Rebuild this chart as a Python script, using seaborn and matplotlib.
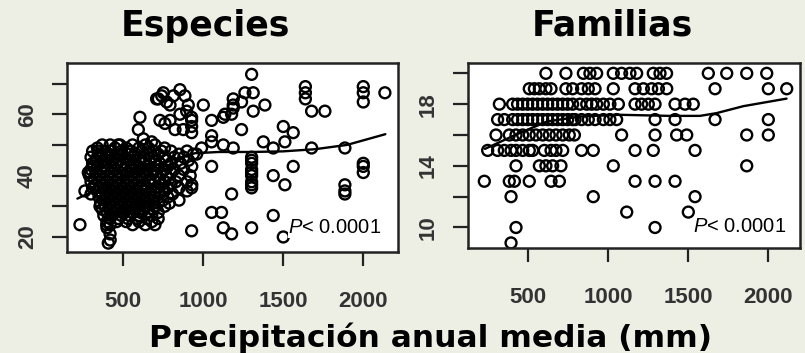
import numpy as np
import pandas as pd
import seaborn as sns
import matplotlib.pyplot as plt

# ---- Especies: dense core read row by row (y = species count, x = precipitation)
esp_core_y = [50, 49, 48, 47, 46, 45, 44, 43, 42, 41, 40, 39, 38, 37, 36, 35, 34,
              33, 32, 31, 30, 29, 28, 27, 26, 25, 24]
esp_core_x = [
    [370, 420, 470, 560, 640, 700],
    [340, 450, 520, 600, 660, 760],
    [310, 390, 430, 490, 550, 620, 690, 740, 800, 900],
    [360, 410, 470, 530, 580, 650, 720, 850, 940],
    [300, 340, 400, 450, 510, 560, 610, 680, 760, 820, 880],
    [330, 380, 430, 480, 540, 600, 640, 700, 770, 910],
    [310, 360, 410, 460, 520, 570, 630, 670, 730, 800, 860],
    [340, 390, 440, 490, 550, 600, 660, 720, 780, 930],
    [300, 360, 400, 450, 510, 560, 610, 650, 700, 760, 820, 880],
    [330, 380, 430, 480, 530, 580, 640, 690, 740, 800],
    [290, 350, 400, 450, 500, 550, 600, 650, 710, 770, 850, 920],
    [320, 370, 420, 470, 520, 570, 620, 670, 730, 790],
    [300, 350, 400, 450, 500, 550, 600, 660, 700, 760, 830, 900],
    [330, 380, 430, 480, 530, 580, 630, 680, 740, 800, 930],
    [310, 360, 410, 460, 510, 560, 610, 650, 720, 780, 850, 929],
    [340, 390, 440, 490, 540, 590, 640, 700, 760, 900],
    [300, 370, 420, 470, 520, 570, 620, 670, 730, 810],
    [350, 400, 450, 500, 550, 600, 650, 700, 780],
    [380, 430, 480, 530, 580, 630, 690, 750, 850],
    [360, 410, 460, 510, 560, 610, 660, 720, 790],
    [390, 440, 490, 540, 590, 640, 700, 760],
    [370, 420, 470, 520, 580, 630, 690],
    [400, 450, 510, 560, 610, 660, 720],
    [380, 430, 490, 540, 600, 680],
    [420, 470, 530, 590, 650, 720],
    [400, 460, 520, 600, 680],
    [420, 560, 640, 700],
]

# ---- Especies: scattered points outside the core
esp_extra_x = [1304, 1640, 1640, 1640, 1679, 1762, 2002, 2002, 2002, 2137,
               1241, 1502, 1564, 1512, 1377, 1439, 1679, 1887, 1564, 1439, 1512,
               2002, 2002, 2002, 1887, 1887, 1887,
               1304, 1304, 1304, 1304, 1304, 1304, 1304, 1304, 1304,
               1179, 1054, 1116, 1127, 1179, 1304, 1439, 1502, 929, 231, 1054,
               1189, 1189, 1189, 1241, 1262, 1314, 1314, 1387, 1002, 1054, 1127,
               1054, 1054, 1127, 1189, 991, 960, 1137, 1179,
               710, 752, 773, 815, 856, 887, 731, 794, 825, 856, 898, 929, 929,
               929, 929, 877, 908, 606, 596, 627, 679, 721, 481, 742, 794, 762,
               346, 346, 294, 262, 356, 398, 419, 408, 283, 315, 400, 420]
esp_extra_y = [73, 69, 67, 65, 61, 61, 69, 67, 64, 67,
               55, 56, 54, 51, 51, 49, 49, 49, 43, 40, 37,
               44, 43, 41, 37, 35, 34,
               46, 45, 44, 42, 41, 40, 38, 37, 36,
               34, 28, 28, 23, 21, 23, 27, 20, 22, 24, 43,
               65, 63, 62, 64, 67, 67, 61, 63, 63, 58, 59,
               53, 51, 50, 49, 49, 47, 60, 60,
               65, 67, 64, 66, 68, 66, 58, 58, 55, 60, 61, 59, 58,
               56, 54, 55, 63, 59, 55, 52, 51, 65, 50, 66, 63, 57,
               48, 47, 41, 35, 30, 24, 21, 18, 41, 43, 23, 19]

# smoothed (lowess) curve
esp_fit_x = [215, 420, 600, 800, 950, 1100, 1300, 1500, 1700, 1900, 2140]
esp_fit_y = [32.5, 37.5, 41.5, 45.0, 47.3, 47.7, 47.7, 47.9, 48.6, 50.0, 53.5]

# ---- Familias: integer counts, one list of x per row
fam_levels = [20, 19, 18, 17, 16, 15, 14, 13, 12, 11, 10, 9]
fam_x_rows = [
    [612, 737, 846, 887, 929, 1033, 1085, 1137, 1179, 1283, 1325, 1366,
     1627, 1742, 1867, 1992],
    [508, 540, 571, 612, 644, 737, 779, 835, 877, 919, 1033, 1169, 1221,
     1273, 1315, 1367, 1669, 2002, 2117],
    [321, 404, 435, 467, 498, 529, 560, 592, 623, 654, 685, 717, 748, 779,
     825, 867, 898, 929, 971, 1012, 1065, 1169, 1210, 1252, 1294, 1419,
     1481, 1533],
    [310, 352, 404, 435, 467, 498, 529, 560, 592, 623, 654, 685, 717, 748,
     779, 794, 835, 877, 919, 971, 1012, 1054, 1294, 1419, 1669, 2002],
    [300, 383, 425, 467, 508, 550, 592, 633, 675, 717, 758, 790, 1085, 1294,
     1429, 1492, 1867, 2002],
    [248, 310, 352, 394, 425, 467, 508, 529, 602, 644, 675, 717, 835, 908,
     1169, 1283, 1544],
    [425, 571, 612, 654, 706, 1033, 1867],
    [227, 383, 415, 508, 644, 696, 1169, 1294, 1419],
    [394, 908, 1544],
    [1117, 1502],
    [425, 1294],
    [394],
]
fam_fit_x = [231, 420, 617, 825, 1075, 1387, 1575, 1679, 1846, 2116]
fam_fit_y = [15.1, 16.0, 16.87, 17.2, 17.31, 17.24, 17.24, 17.42, 17.87, 18.36]

# ---- build tables
esp = pd.DataFrame({
    'x': [x for xs in esp_core_x for x in xs] + esp_extra_x,
    'y': [y for y, xs in zip(esp_core_y, esp_core_x) for _ in xs] + esp_extra_y,
})
fam = pd.DataFrame({
    'x': [x for xs in fam_x_rows for x in xs],
    'y': [y for y, xs in zip(fam_levels, fam_x_rows) for _ in xs],
})

sns.set_style('ticks')
plt.rcParams['font.family'] = ['DejaVu Sans']
plt.rcParams['mathtext.fontset'] = 'custom'
plt.rcParams['mathtext.it'] = 'Liberation Sans:italic'
plt.rcParams['mathtext.rm'] = 'Liberation Sans'
bg = '#EDEEE4'

fig = plt.figure(figsize=(8.05, 3.53), dpi=100, facecolor=bg)
ax1 = fig.add_axes([67 / 805, 1 - 252 / 353, 331 / 805, 189 / 353])
ax2 = fig.add_axes([468 / 805, 1 - 248 / 353, 332 / 805, 185 / 353])

panels = [
    (ax1, esp, esp_fit_x, esp_fit_y, (150, 2219), (15.1, 76.7),
     [20, 30, 40, 50, 60, 70], ['20', '', '40', '', '60', ''], (0.668, 0.10)),
    (ax2, fam, fam_fit_x, fam_fit_y, (125, 2200), (8.67, 20.67),
     [10, 12, 14, 16, 18, 20], ['10', '', '14', '', '18', ''], (0.678, 0.086)),
]

for ax, df, fx, fy, xl, yl, yt, ytl, ppos in panels:
    sns.scatterplot(data=df, x='x', y='y', ax=ax, marker='o', s=62,
                    facecolors='none', edgecolor='black', linewidth=1.7)
    sns.lineplot(x=fx, y=fy, ax=ax, color='black', lw=1.7, sort=False)
    ax.set_xlim(*xl)
    ax.set_ylim(*yl)
    ax.set_xticks([500, 1000, 1500, 2000])
    ax.set_xticklabels(['500', '1000', '1500', '2000'])
    ax.set_yticks(yt)
    ax.set_yticklabels(ytl)
    ax.set_xlabel('')
    ax.set_ylabel('')
    ax.set_facecolor('white')
    for sp in ax.spines.values():
        sp.set_visible(True)
        sp.set_linewidth(1.8)
        sp.set_color('#222222')
    ax.tick_params(axis='x', length=10, width=1.6, pad=18, colors='#222222',
                   labelsize=16, labelcolor='#333333')
    ax.tick_params(axis='y', length=11, width=1.6, pad=10, colors='#222222',
                   labelsize=16, labelcolor='#333333', labelrotation=90)
    for lab in ax.get_xticklabels() + ax.get_yticklabels():
        lab.set_family(['Liberation Sans', 'DejaVu Sans'])
        lab.set_fontweight('bold')
    for lab in ax.get_yticklabels():
        lab.set_va('center')
    ax.text(ppos[0], ppos[1], r'$\it{P}$< 0.0001', fontsize=14.5,
            family=['Liberation Sans', 'DejaVu Sans'], color='black',
            transform=ax.transAxes, ha='left', va='baseline', zorder=5,
            bbox=dict(facecolor='white', edgecolor='none', pad=0.3))

fig.text(205 / 805, 1 - 26 / 353, 'Especies', ha='center', va='center',
         fontsize=25, fontweight='bold', color='black')
fig.text(612 / 805, 1 - 26 / 353, 'Familias', ha='center', va='center',
         fontsize=25, fontweight='bold', color='black')
fig.text(430 / 805, 1 - 347 / 353, 'Precipitación anual media (mm)',
         ha='center', va='baseline', fontsize=22.5, fontweight='bold',
         color='black')

fig.savefig('out.png', dpi=100, facecolor=bg)
